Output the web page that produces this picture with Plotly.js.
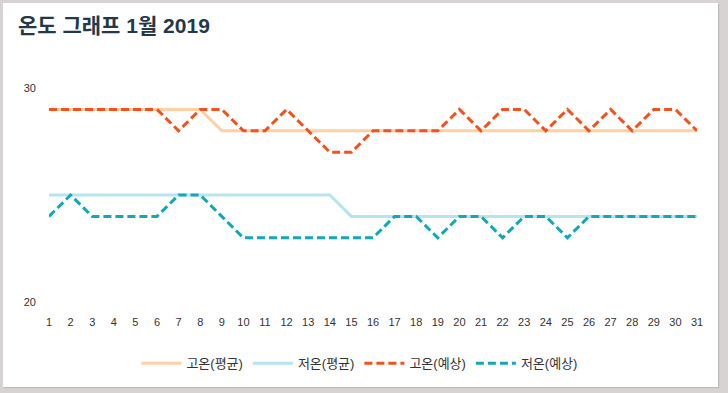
<!DOCTYPE html>
<html>
<head>
<meta charset="utf-8">
<script src="https://cdn.plot.ly/plotly-3.0.1.min.js"></script>
<style>
  html, body { margin: 0; padding: 0; background: #d6d3d2; width: 728px; height: 393px; overflow: hidden; }
  #frame { position: absolute; left: 3px; top: 3px; width: 715px; height: 384px; background: #ffffff; box-shadow: 1px 1px 1px #bdb9b8; }
  #chart { width: 715px; height: 384px; }
</style>
</head>
<body>
<div id="frame"><div id="chart"></div></div>
<script>
// Data
const days = [1,2,3,4,5,6,7,8,9,10,11,12,13,14,15,16,17,18,19,20,21,22,23,24,25,26,27,28,29,30,31];
const highAvg = [29,29,29,29,29,29,29,29,28,28,28,28,28,28,28,28,28,28,28,28,28,28,28,28,28,28,28,28,28,28,28];
const lowAvg  = [25,25,25,25,25,25,25,25,25,25,25,25,25,25,24,24,24,24,24,24,24,24,24,24,24,24,24,24,24,24,24];
const highFc  = [29,29,29,29,29,29,28,29,29,28,28,29,28,27,27,28,28,28,28,29,28,29,29,28,29,28,29,28,29,29,28];
const lowFc   = [24,25,24,24,24,24,25,25,24,23,23,23,23,23,23,23,24,24,23,24,24,23,24,24,23,24,24,24,24,24,24];
const seriesNames = ['고온(평균)', '저온(평균)', '고온(예상)', '저온(예상)'];
const yTicks = [20, 30];
const titleText = '온도 그래프 1월 2019';

const FONT = 'Liberation Sans, Arial, "Noto Sans CJK KR", sans-serif';

const traces = [
  { x: days, y: highAvg, name: seriesNames[0], type: 'scatter', mode: 'lines',
    line: { color: '#ffd0a3', width: 3 } },
  { x: days, y: lowAvg, name: seriesNames[1], type: 'scatter', mode: 'lines',
    line: { color: '#b6e5f0', width: 3 } },
  { x: days, y: highFc, name: seriesNames[2], type: 'scatter', mode: 'lines',
    line: { color: '#f4511e', width: 3, dash: '8px,4px' } },
  { x: days, y: lowFc, name: seriesNames[3], type: 'scatter', mode: 'lines',
    line: { color: '#12a8b8', width: 3, dash: '8px,4px' } }
];

const layout = {
  width: 715, height: 384,
  paper_bgcolor: '#ffffff', plot_bgcolor: '#ffffff',
  margin: { l: 46, r: 21, t: 85, b: 85, autoexpand: false },
  font: { family: FONT, color: '#333333', size: 11 },
  title: {
    text: '<b>' + titleText + '</b>',
    font: { family: FONT, size: 21, color: '#25384a' },
    xref: 'container', yref: 'container',
    x: 15/715, xanchor: 'left',
    y: 1 - 23/384, yanchor: 'middle'
  },
  xaxis: {
    type: 'linear', range: [1, 31], automargin: false,
    tickmode: 'array', tickvals: days, ticktext: days.map(String),
    showgrid: false, zeroline: false, showline: false, ticks: '',
    ticklabelstandoff: 12,
    tickfont: { family: FONT, size: 11, color: '#333333' },
    fixedrange: true
  },
  yaxis: {
    range: [20, 30], automargin: false,
    tickmode: 'array', tickvals: yTicks, ticktext: yTicks.map(String),
    showgrid: false, zeroline: false, showline: false, ticks: '',
    ticklabelstandoff: 12,
    tickfont: { family: FONT, size: 11, color: '#333333' },
    fixedrange: true
  },
  showlegend: true,
  legend: {
    orientation: 'h', x: 0.479, xanchor: 'center',
    y: -0.287, yanchor: 'middle',
    itemwidth: 40,
    font: { family: FONT, size: 13, color: '#333333' },
    traceorder: 'normal'
  }
};

Plotly.newPlot('chart', traces, layout, { displayModeBar: false, staticPlot: true });
</script>
</body>
</html>
